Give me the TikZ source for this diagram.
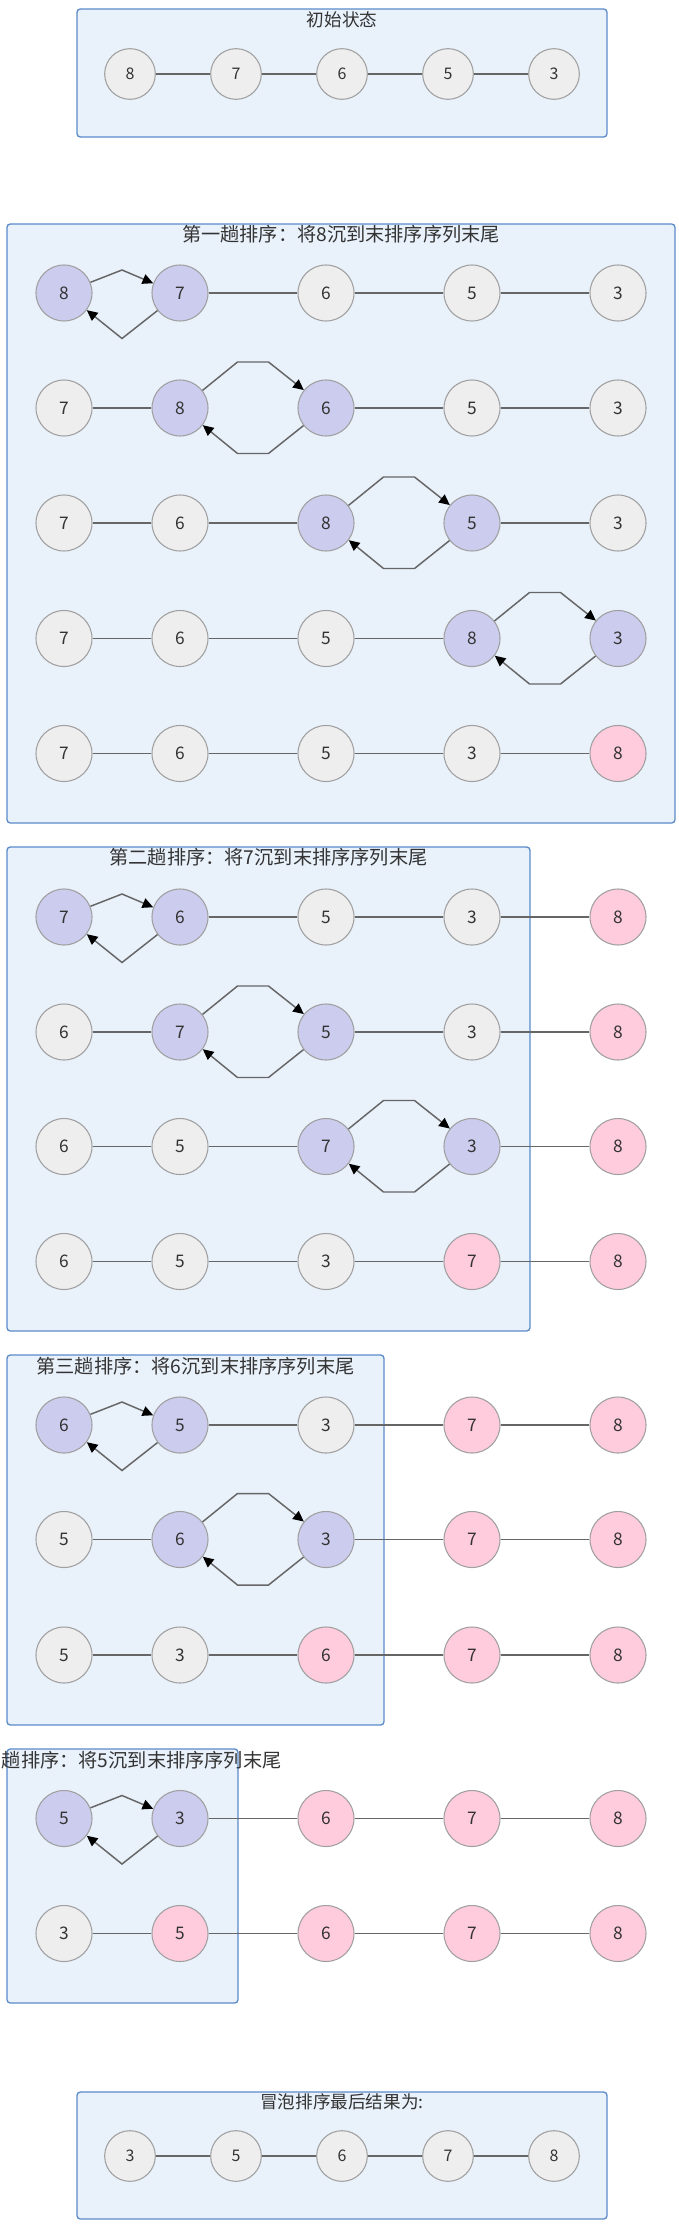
\documentclass[tikz,border=0pt]{standalone}
\usepackage{fontspec}
\setmainfont{Noto Sans CJK SC}
\usepackage{xcolor}
\usepackage{tikz}
\usetikzlibrary{positioning, arrows.meta, calc}
\definecolor{sortedge}{HTML}{5B8BC9}
\definecolor{sortfill}{HTML}{E9F1FB}
\definecolor{sortgray}{HTML}{EEEEEE}
\definecolor{sortlilac}{HTML}{CCCCEE}
\definecolor{sortpink}{HTML}{FFCCDD}
\definecolor{sortrim}{HTML}{A0A0A0}
\definecolor{sortline}{HTML}{666666}
\definecolor{sortdark}{HTML}{333333}

\begin{document}
\begin{tikzpicture}[
  x=0.75pt, y=-0.75pt,
  pass/.style={draw=sortedge, fill=sortfill, line width=1pt, rounded corners=2.5pt},
  caption/.style={font=\fontsize{14.4}{16}\selectfont, text=sortdark, inner sep=0pt},
  smallcaption/.style={caption, font=\fontsize{13.2}{15}\selectfont},
  elem/.style={circle, draw=sortrim, line width=0.8pt, minimum size=42pt, inner sep=0pt,
    font=\fontsize{13}{15}\selectfont, text=sortdark},
  idle/.style={elem, fill=sortgray},
  swap/.style={elem, fill=sortlilac},
  done/.style={elem, fill=sortpink},
  small/.style={idle, minimum size=38pt, font=\fontsize{12}{14}\selectfont},
  link/.style={draw=sortline, line width=1.2pt},
  move/.style={-{Triangle[length=8pt, width=7.5pt, color=black]}, draw=sortline, line width=1.1pt},
]
\useasboundingbox (0,0) rectangle (678,2229);

\draw[pass] (77,9) rectangle (607,137);
\node[smallcaption] (t0) at (342,20) {初始状态};
\foreach \n/\x/\v in {1/130/8, 2/236/7, 3/342/6, 4/448/5, 5/554/3}
  \node[small] (s\n) at (\x,74) {\v};
\foreach \a/\b in {1/2, 2/3, 3/4, 4/5}
  \draw[link] (s\a) -- (s\b);

\draw[pass] (7,224) rectangle (675,823);
\node[caption] (t1) at (341,234) {第一趟排序：将8沉到末排序序列末尾};
\foreach \n/\x/\v/\k in {1/64/8/swap, 2/180/7/swap, 3/326/6/idle, 4/472/5/idle, 5/618/3/idle}
  \node[\k] (p1r1n\n) at (\x,293) {\v};
\foreach \n/\x/\v/\k in {1/64/7/idle, 2/180/8/swap, 3/326/6/swap, 4/472/5/idle, 5/618/3/idle}
  \node[\k] (p1r2n\n) at (\x,408) {\v};
\foreach \n/\x/\v/\k in {1/64/7/idle, 2/180/6/idle, 3/326/8/swap, 4/472/5/swap, 5/618/3/idle}
  \node[\k] (p1r3n\n) at (\x,523) {\v};
\foreach \n/\x/\v/\k in {1/64/7/idle, 2/180/6/idle, 3/326/5/idle, 4/472/8/swap, 5/618/3/swap}
  \node[\k] (p1r4n\n) at (\x,638.5) {\v};
\foreach \n/\x/\v/\k in {1/64/7/idle, 2/180/6/idle, 3/326/5/idle, 4/472/3/idle, 5/618/8/done}
  \node[\k] (p1r5n\n) at (\x,753.5) {\v};

\draw[pass] (7,847) rectangle (530,1331);
\node[caption] (t2) at (268.5,857) {第二趟排序：将7沉到末排序序列末尾};
\foreach \n/\x/\v/\k in {1/64/7/swap, 2/180/6/swap, 3/326/5/idle, 4/472/3/idle, 5/618/8/done}
  \node[\k] (p2r1n\n) at (\x,917) {\v};
\foreach \n/\x/\v/\k in {1/64/6/idle, 2/180/7/swap, 3/326/5/swap, 4/472/3/idle, 5/618/8/done}
  \node[\k] (p2r2n\n) at (\x,1032) {\v};
\foreach \n/\x/\v/\k in {1/64/6/idle, 2/180/5/idle, 3/326/7/swap, 4/472/3/swap, 5/618/8/done}
  \node[\k] (p2r3n\n) at (\x,1146.5) {\v};
\foreach \n/\x/\v/\k in {1/64/6/idle, 2/180/5/idle, 3/326/3/idle, 4/472/7/done, 5/618/8/done}
  \node[\k] (p2r4n\n) at (\x,1261.5) {\v};

\draw[pass] (7,1355) rectangle (384,1725);
\node[caption] (t3) at (195.5,1366) {第三趟排序：将6沉到末排序序列末尾};
\foreach \n/\x/\v/\k in {1/64/6/swap, 2/180/5/swap, 3/326/3/idle, 4/472/7/done, 5/618/8/done}
  \node[\k] (p3r1n\n) at (\x,1425) {\v};
\foreach \n/\x/\v/\k in {1/64/5/idle, 2/180/6/swap, 3/326/3/swap, 4/472/7/done, 5/618/8/done}
  \node[\k] (p3r2n\n) at (\x,1539.5) {\v};
\foreach \n/\x/\v/\k in {1/64/5/idle, 2/180/3/idle, 3/326/6/done, 4/472/7/done, 5/618/8/done}
  \node[\k] (p3r3n\n) at (\x,1655) {\v};

\draw[pass] (7,1749) rectangle (238,2003);
\node[caption] (t4) at (122.5,1760) {第四趟排序：将5沉到末排序序列末尾};
\foreach \n/\x/\v/\k in {1/64/5/swap, 2/180/3/swap, 3/326/6/done, 4/472/7/done, 5/618/8/done}
  \node[\k] (p4r1n\n) at (\x,1818.5) {\v};
\foreach \n/\x/\v/\k in {1/64/3/idle, 2/180/5/done, 3/326/6/done, 4/472/7/done, 5/618/8/done}
  \node[\k] (p4r2n\n) at (\x,1933.5) {\v};

\foreach \r/\a/\b in {p1r1/2/3, p1r1/3/4, p1r1/4/5,
    p1r2/1/2, p1r2/3/4, p1r2/4/5,
    p1r3/1/2, p1r3/2/3, p1r3/4/5,
    p1r4/1/2, p1r4/2/3, p1r4/3/4,
    p1r5/1/2, p1r5/2/3, p1r5/3/4, p1r5/4/5,
    p2r1/2/3, p2r1/3/4, p2r1/4/5,
    p2r2/1/2, p2r2/3/4, p2r2/4/5,
    p2r3/1/2, p2r3/2/3, p2r3/4/5,
    p2r4/1/2, p2r4/2/3, p2r4/3/4, p2r4/4/5,
    p3r1/2/3, p3r1/3/4, p3r1/4/5,
    p3r2/1/2, p3r2/3/4, p3r2/4/5,
    p3r3/1/2, p3r3/2/3, p3r3/3/4, p3r3/4/5,
    p4r1/2/3, p4r1/3/4, p4r1/4/5,
    p4r2/1/2, p4r2/2/3, p4r2/3/4, p4r2/4/5}
  \draw[link] (\r n\a) -- (\r n\b);

\foreach \r in {p1r1, p2r1, p3r1, p4r1} {
  \draw[move] (\r n1.22) -- ($(\r n1)!.5!(\r n2)+(0,-23)$) -- (\r n2.160);
  \draw[move] (\r n2.218) -- ($(\r n1)!.5!(\r n2)+(0,45.5)$) -- (\r n1.323);
}
\foreach \r/\a/\b in {p1r2/2/3, p1r3/3/4, p1r4/4/5, p2r2/2/3, p2r3/3/4, p3r2/2/3} {
  \draw[move] (\r n\a.38) -- ($(\r n\a)!.5!(\r n\b)+(-15.5,-46)$) -- ++(31,0) -- (\r n\b.141);
  \draw[move] (\r n\b.218) -- ($(\r n\a)!.5!(\r n\b)+(15.5,45.5)$) -- ++(-31,0) -- (\r n\a.323);
}

\draw[pass] (77,2092) rectangle (607,2219);
\node[smallcaption] (t5) at (342,2102) {冒泡排序最后结果为:};
\foreach \n/\x/\v in {1/130/3, 2/236/5, 3/342/6, 4/448/7, 5/554/8}
  \node[small] (e\n) at (\x,2156) {\v};
\foreach \a/\b in {1/2, 2/3, 3/4, 4/5}
  \draw[link] (e\a) -- (e\b);
\end{tikzpicture}
\end{document}
